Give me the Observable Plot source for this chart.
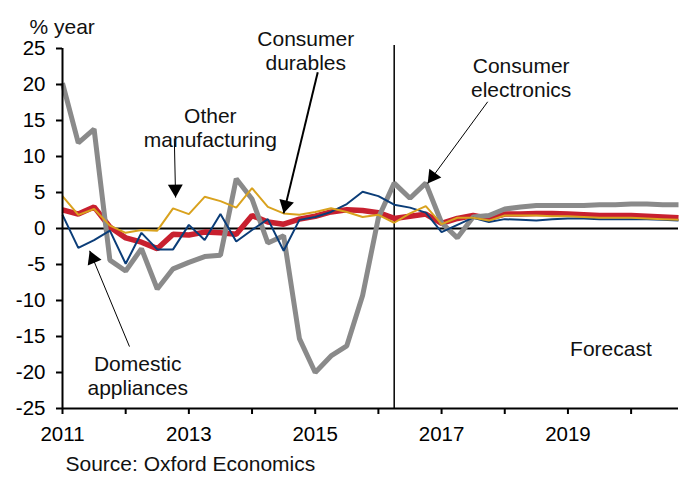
<!DOCTYPE html>
<html><head><meta charset="utf-8">
<script src="https://cdn.jsdelivr.net/npm/d3@7"></script>
<script src="https://cdn.jsdelivr.net/npm/@observablehq/plot@0.6"></script>
<style>
body{margin:0;background:#fff;}
#chart{width:688px;height:484px;}
</style></head><body><div id="chart"></div>
<script>
// Quarterly observations, 2011Q1 .. 2020Q4
const quarters = d3.range(40).map(i => 2011 + i / 4);
const consumerDurables = [2.6, 2.0, 3.0, 0.2, -1.3, -1.9, -2.8, -0.8, -0.9, -0.5, -0.6, -0.8, 1.8, 0.9, 0.6, 1.3, 1.7, 2.3, 2.6, 2.5, 2.2, 1.4, 1.7, 2.0, 0.7, 1.4, 1.8, 1.4, 2.0, 2.0, 2.1, 2.1, 2.0, 1.9, 1.8, 1.8, 1.8, 1.7, 1.6, 1.5];
const consumerElectronics = [20.2, 11.9, 13.8, -4.4, -5.9, -2.8, -8.4, -5.6, -4.7, -3.9, -3.7, 6.9, 4.1, -2.0, -1.0, -15.3, -20.0, -17.7, -16.3, -9.3, 1.5, 6.3, 4.2, 6.3, 0.8, -1.3, 1.6, 1.8, 2.7, 3.0, 3.2, 3.2, 3.2, 3.2, 3.3, 3.3, 3.4, 3.4, 3.3, 3.3];
const domesticAppliances = [1.9, -2.7, -1.6, -0.3, -4.9, -0.6, -2.9, -2.9, 0.5, -1.6, 2.0, -1.8, -0.2, 1.3, -3.1, 1.2, 1.6, 2.3, 3.4, 5.1, 4.5, 3.3, 2.9, 2.2, -0.5, 0.5, 1.5, 0.9, 1.3, 1.2, 1.1, 1.3, 1.4, 1.4, 1.3, 1.3, 1.3, 1.3, 1.2, 1.1];
const otherManufacturing = [4.5, 1.9, 2.7, 0.4, -0.6, -0.2, -0.3, 2.8, 2.0, 4.4, 3.8, 2.9, 5.6, 3.0, 2.1, 1.9, 2.3, 2.8, 2.3, 1.6, 1.9, 0.8, 2.1, 3.1, 0.6, 1.5, 1.5, 1.1, 1.8, 1.8, 1.8, 1.7, 1.7, 1.6, 1.5, 1.5, 1.5, 1.4, 1.3, 1.2];

const seriesNames = ["Consumer durables", "Consumer electronics", "Domestic appliances", "Other manufacturing"];
const seriesValues = [consumerDurables, consumerElectronics, domesticAppliances, otherManufacturing];
const seriesColors = ["#c8202f", "#8a8a8a", "#0b3d78", "#d9a21e"];
const seriesWidths = [5.5, 5, 2, 2];

const xTicks = d3.range(2011, 2021);
const yTicks = [-25, -20, -15, -10, -5, 0, 5, 10, 15, 20, 25];
const forecastStart = 2016.25;

// Annotations (data coordinates)
const labelTexts = ["Other\nmanufacturing", "Consumer\ndurables", "Consumer\nelectronics", "Domestic\nappliances", "Forecast"];
const labelX = [2013.34, 2014.85, 2018.26, 2012.19, 2019.68];
const labelY = [14.0, 24.8, 21.0, -20.4, -16.7];
const arrowX1 = [2012.77, 2015.04, 2017.73, 2012.06];
const arrowY1 = [12.5, 21.7, 17.6, -16.4];
const arrowX2 = [2012.79, 2014.50, 2016.78, 2011.43];
const arrowY2 = [4.3, 2.1, 6.25, -3.1];
const arrowW = [1, 2, 1, 1];

const W = 688, H = 484, ML = 62, MR = 10, MT = 48, MB = 76;
const xDomain = [2011, 2020.75], yDomain = [-25, 25];
const kx = (W - ML - MR) / (xDomain[1] - xDomain[0]);
const ky = (H - MT - MB) / (yDomain[1] - yDomain[0]);

const font = "'Liberation Sans', Arial, Helvetica, sans-serif";

const rows = seriesNames.flatMap((name, s) => quarters.map((q, i) => ({name, q, v: seriesValues[s][i]})));

// arrow heads: filled triangles with apex at the arrow tip
const headS = 8.6;
const heads = arrowX1.map((x1, i) => {
  const sx = (arrowX2[i] - x1) * kx, sy = -(arrowY2[i] - arrowY1[i]) * ky;
  const len = Math.hypot(sx, sy), ux = sx / len, uy = sy / len;
  return {
    x: arrowX2[i] - ux * headS / kx,
    y: arrowY2[i] + uy * headS / ky,
    rot: Math.atan2(sx, -sy) * 180 / Math.PI
  };
});
const idx = d3.range(arrowX1.length);

const lineMarks = seriesNames.map((name, s) =>
  Plot.line(rows.filter(d => d.name === name), {x: "q", y: "v", stroke: seriesColors[s], strokeWidth: seriesWidths[s], strokeLinejoin: "miter", strokeLinecap: "butt"})
);

const chart = Plot.plot({
  width: W, height: H,
  marginLeft: ML, marginRight: MR, marginTop: MT, marginBottom: MB,
  style: {fontFamily: font, color: "#000", background: "#fff", overflow: "visible"},
  x: {domain: xDomain},
  y: {domain: yDomain},
  marks: [
    Plot.ruleY([0], {stroke: "#000", strokeWidth: 2}),
    Plot.ruleX([forecastStart], {y1: yDomain[0], y2: yDomain[1] + 0.4, stroke: "#000", strokeWidth: 1.5}),
    ...lineMarks,
    Plot.ruleX([xDomain[0]], {stroke: "#000", strokeWidth: 2}),
    Plot.ruleY([yDomain[0]], {stroke: "#000", strokeWidth: 2}),
    Plot.axisY({ticks: yTicks, tickSize: 6, tickPadding: 11, tickFormat: d => String(d), fontSize: 20.5, label: null, strokeWidth: 2}),
    Plot.axisX({ticks: xTicks, tickSize: 6, tickPadding: 12, tickFormat: d => (d % 2 ? String(d) : ""), fontSize: 20.5, label: null, strokeWidth: 2}),
    Plot.link(idx, {x1: i => arrowX1[i], y1: i => arrowY1[i], x2: i => arrowX2[i], y2: i => arrowY2[i], stroke: "#000", strokeWidth: i => arrowW[i]}),
    Plot.dot(heads, {x: "x", y: "y", rotate: "rot", symbol: "triangle2", r: 7.1, fill: "#000", stroke: "none"}),
    Plot.text(labelTexts, {x: (d, i) => labelX[i], y: (d, i) => labelY[i], text: d => d, fontSize: 21, lineHeight: 1.14, fill: "#111", textAnchor: "middle"}),
    Plot.text(["% year"], {frameAnchor: "top-left", text: d => d, textAnchor: "start", dx: -33, dy: -29, fontSize: 21, fill: "#111"}),
    Plot.text(["Source: Oxford Economics"], {frameAnchor: "bottom-left", text: d => d, textAnchor: "start", dx: 3, dy: 62, fontSize: 21, fill: "#111"})
  ]
});
document.getElementById("chart").appendChild(chart);
</script>
</body></html>
